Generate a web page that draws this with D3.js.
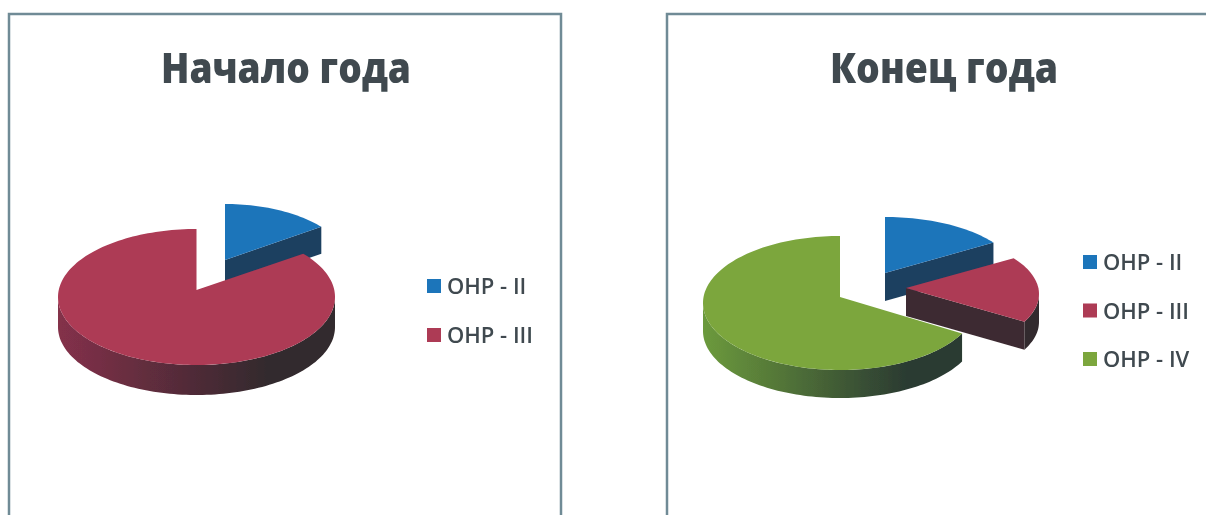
<!DOCTYPE html>
<html>
<head>
<meta charset="utf-8">
<script src="https://cdnjs.cloudflare.com/ajax/libs/d3/7.8.5/d3.min.js"></script>
<style>
    html, body { margin: 0; padding: 0; background: #fff; overflow: hidden; }
    text { font-family: "Open Sans", "Noto Sans", sans-serif; fill: #3f4a50; }
</style>
</head>
<body>
<div id="chart"></div>
<script>
// values (percent)
const startCategories = ["ОНР - II", "ОНР - III"];
const startValues = [14, 86];
const endCategories = ["ОНР - II", "ОНР - III", "ОНР - IV"];
const endValues = [15, 17.5, 67.5];

const faceColors = ["#1f74ba", "#ad3a55", "#7ba63e"];
const edgeColors = ["#1c3f60", "#3c2a30", "#2f3d33"];
const rimColors = [
    ["#1c3f60", "#1c3f60"],
    ["#84304a", "#33292d"],
    ["#6c9a3c", "#2a3a32"]
];

class Pie3d {

    constructor(svg, id, config, categories, values) {
        this.svg = svg.append("g").attr("class", "pie-" + id);
        this.id = id;
        this.config = config;
        this.categories = categories;
        this.values = values;
        this.initVis();
    }

    // a = clockwise from 12 o'clock
    arcPoints(s, a0, a1, dy) {
        let n = Math.max(2, Math.ceil((a1 - a0) / 0.03));
        return d3.range(n + 1).map(i => {
            let a = a0 + (a1 - a0) * i / n;
            return [s.x + s.rx * Math.sin(a), s.y + s.shift - s.ry * Math.cos(a) + dy];
        });
    }

    initVis() {
        let vis = this;
        let cfg = vis.config;
        let line = d3.line();

        // frame is open at the bottom, it runs off the picture
        vis.svg.append("path")
            .attr("d", `M${cfg.frame[0]},515V${cfg.frame[1]}H${cfg.frame[2]}V515`)
            .attr("fill", "none")
            .attr("stroke", "#6f8b96")
            .attr("stroke-width", 2.5)
            .attr("filter", "url(#soft)");

        vis.svg.append("text")
            .attr("x", cfg.titleX)
            .attr("y", 83)
            .attr("text-anchor", "middle")
            .attr("font-size", cfg.titleSize)
            .attr("font-weight", 800)
            .attr("textLength", cfg.titleLength)
            .attr("lengthAdjust", "spacingAndGlyphs")
            .attr("filter", "url(#softText)")
            .text(cfg.title);

        let pie = d3.pie().sort(null)
            .startAngle(0).endAngle(2 * Math.PI);
        let slices = pie(vis.values).map((d, i) => Object.assign({}, d, cfg.slices[i], {index: i}));

        let g = vis.svg.append("g").attr("filter", "url(#soft)");
        let defs = vis.svg.append("defs");

        cfg.order.forEach(i => {
            let s = slices[i];
            let a0 = s.startAngle, a1 = s.endAngle;
            let apex = [s.x, s.y];
            let rim = this.arcPoints(s, a0, a1, 0);

            // cut faces that look at the viewer
            [[a1, a1 < Math.PI], [a0, a0 > Math.PI]].forEach(([a, show]) => {
                if (!show) return;
                let p = this.arcPoints(s, a, a, 0)[0];
                g.append("path")
                    .attr("d", line([apex, p, [p[0], p[1] + s.depth], [apex[0], apex[1] + s.depth]]) + "Z")
                    .attr("fill", edgeColors[i]);
            });

            // front rim
            let r0 = Math.max(a0, Math.PI / 2), r1 = Math.min(a1, 3 * Math.PI / 2);
            if (r1 > r0) {
                let gradId = `rim-${vis.id}-${i}`;
                let top = this.arcPoints(s, r0, r1, 0);
                let bottom = this.arcPoints(s, r0, r1, s.depth).reverse();
                let grad = defs.append("linearGradient")
                    .attr("id", gradId)
                    .attr("gradientUnits", "userSpaceOnUse")
                    .attr("x1", s.x - s.rx).attr("x2", s.x + s.rx)
                    .attr("y1", 0).attr("y2", 0);
                grad.append("stop").attr("offset", 0).attr("stop-color", rimColors[i][0]);
                grad.append("stop").attr("offset", 0.75).attr("stop-color", rimColors[i][1]);
                grad.append("stop").attr("offset", 1).attr("stop-color", rimColors[i][1]);
                g.append("path")
                    .attr("d", line(top.concat(bottom)) + "Z")
                    .attr("fill", `url(#${gradId})`);
            }

            // top face
            g.append("path")
                .attr("d", line([apex].concat(rim)) + "Z")
                .attr("fill", faceColors[i]);
        });

        // legend
        let legendY = d3.scalePoint()
            .domain(vis.categories)
            .range(cfg.legendRange);

        let items = vis.svg.selectAll(".legend-item")
            .data(vis.categories)
            .enter()
            .append("g")
            .attr("class", "legend-item")
            .attr("transform", d => "translate(" + cfg.legendX + "," + legendY(d) + ")");

        items.append("rect")
            .attr("x", 0).attr("y", -7)
            .attr("width", 14).attr("height", 14)
            .attr("fill", (d, i) => faceColors[i])
            .attr("filter", "url(#softText)");

        items.append("text")
            .attr("x", 20)
            .attr("y", 8)
            .attr("font-size", 22)
            .attr("font-weight", 600)
            .attr("filter", "url(#softText)")
            .text(d => d);
    }
}

const svg = d3.select("#chart")
    .append("svg")
    .attr("width", 1206)
    .attr("height", 515);

const filters = svg.append("defs");
filters.append("filter")
    .attr("id", "soft")
    .append("feGaussianBlur")
    .attr("stdDeviation", 0.7);
filters.append("filter")
    .attr("id", "softText")
    .append("feGaussianBlur")
    .attr("stdDeviation", 0.5);

new Pie3d(svg, "start", {
    title: "Начало года",
    titleX: 286, titleSize: 43, titleLength: 250,
    frame: [9, 14, 561],
    order: [0, 1],
    slices: [
        {x: 225, y: 260, shift: 7, rx: 125, ry: 63, depth: 27},
        {x: 196.5, y: 290, shift: 7, rx: 138.5, ry: 68, depth: 30}
    ],
    legendX: 427,
    legendRange: [286, 335]
}, startCategories, startValues);

new Pie3d(svg, "end", {
    title: "Конец года",
    titleX: 944, titleSize: 43, titleLength: 228,
    frame: [667, 14, 1210],
    order: [0, 2, 1],
    slices: [
        {x: 885, y: 273, shift: 6, rx: 134, ry: 62, depth: 28},
        {x: 906, y: 288, shift: 6, rx: 133, ry: 61, depth: 28},
        {x: 840, y: 297, shift: 6, rx: 137, ry: 67, depth: 28}
    ],
    legendX: 1083,
    legendRange: [262, 359]
}, endCategories, endValues);
</script>
</body>
</html>
